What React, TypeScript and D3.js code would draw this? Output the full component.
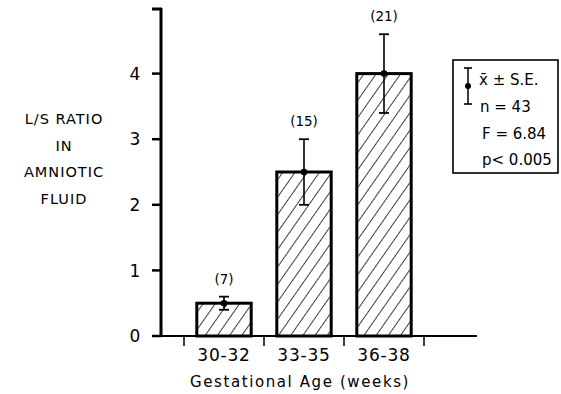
import React from 'react';
import * as d3 from 'd3';

// gestational age groups and the L/S ratio values
const groups = ['30-32', '33-35', '36-38'];
const means = [0.5, 2.5, 4.0];
const errors = [0.1, 0.5, 0.6];
const counts = ['(7)', '(15)', '(21)'];
const yTicks = [0, 1, 2, 3, 4];
const yLabelLines = ['L/S RATIO', 'IN', 'AMNIOTIC', 'FLUID'];
const legendLines = ['n = 43', 'F = 6.84', 'p< 0.005'];

const font = '"DejaVu Sans", sans-serif';

const App = () => {
  const width = 561;
  const height = 394;

  const y = d3.scaleLinear().domain([0, 5]).range([336, 8]);
  const x = d3.scaleBand().domain(groups).range([184, 424]).paddingInner(0.32).paddingOuter(0.16);
  const axisX = 161;

  return (
    <svg width={width} height={height} style={{ position: 'absolute', left: 0, top: 0, background: '#fff' }}>
      <defs>
        <pattern id="hatch" patternUnits="userSpaceOnUse" width="10" height="10" patternTransform="rotate(35)">
          <line x1="0" y1="0" x2="0" y2="10" stroke="#000" strokeWidth="1.5" />
        </pattern>
      </defs>

      {/* y axis */}
      <line x1={axisX} x2={axisX} y1={y(5)} y2={y(0)} stroke="#000" strokeWidth="3" />
      <line x1={axisX - 9} x2={axisX + 1} y1={y(5) + 1} y2={y(5) + 1} stroke="#000" strokeWidth="3" />
      {yTicks.map(t => (
        <g key={t}>
          <line x1={axisX - 9} x2={axisX} y1={y(t)} y2={y(t)} stroke="#000" strokeWidth="2.5" />
          <text x={axisX - 26} y={y(t)} dy="0.36em" textAnchor="middle" fontFamily={font} fontSize="17">{t}</text>
        </g>
      ))}

      {/* y label */}
      {yLabelLines.map((s, i) => (
        <text key={s} x={64} y={119 + i * 26.5} dy="0.36em" textAnchor="middle" fontFamily={font} fontSize="14.5" letterSpacing="1">{s}</text>
      ))}

      {/* x axis */}
      <line x1={axisX} x2={477} y1={y(0)} y2={y(0)} stroke="#000" strokeWidth="1.8" />
      {[0, 1, 2, 3].map(i => {
        const bx = 184 + i * x.step();
        return <line key={i} x1={bx} x2={bx} y1={y(0)} y2={y(0) + 10} stroke="#000" strokeWidth="1.5" />;
      })}

      {/* bars */}
      {groups.map((g, i) => {
        const bx = x(g) as number;
        const cx = bx + x.bandwidth() / 2;
        return (
          <g key={g}>
            <rect x={bx} y={y(means[i])} width={x.bandwidth()} height={y(0) - y(means[i])}
              fill="url(#hatch)" stroke="#000" strokeWidth="3" />
            <line x1={cx} x2={cx} y1={y(means[i] + errors[i])} y2={y(means[i] - errors[i])} stroke="#000" strokeWidth="1.6" />
            <line x1={cx - 5} x2={cx + 5} y1={y(means[i] + errors[i])} y2={y(means[i] + errors[i])} stroke="#000" strokeWidth="1.8" />
            <line x1={cx - 5} x2={cx + 5} y1={y(means[i] - errors[i])} y2={y(means[i] - errors[i])} stroke="#000" strokeWidth="1.8" />
            <circle cx={cx} cy={y(means[i])} r="3.3" fill="#000" />
            <text x={cx} y={y(means[i] + errors[i]) - 18} dy="0.36em" textAnchor="middle" fontFamily={font} fontSize="13.5">{counts[i]}</text>
            <text x={cx} y={355} dy="0.36em" textAnchor="middle" fontFamily={font} fontSize="17" letterSpacing="0.8">{g}</text>
          </g>
        );
      })}

      <text x={300} y={382} dy="0.36em" textAnchor="middle" fontFamily={font} fontSize="15" letterSpacing="1.6">Gestational Age (weeks)</text>

      {/* legend */}
      <rect x={453} y={60} width={105} height={113} fill="none" stroke="#000" strokeWidth="1.6" />
      <line x1={468} x2={468} y1={68} y2={104} stroke="#000" strokeWidth="1.5" />
      <line x1={464} x2={472} y1={68} y2={68} stroke="#000" strokeWidth="1.6" />
      <line x1={464} x2={472} y1={104} y2={104} stroke="#000" strokeWidth="1.6" />
      <circle cx={468} cy={86} r="3" fill="#000" />
      <text x={479} y={80} dy="0.36em" fontFamily={font} fontSize="15">{'x\u0304 \u00b1 S.E.'}</text>
      {legendLines.map((s, i) => (
        <text key={s} x={i === 0 ? 480 : 482} y={107 + i * 26.5} dy="0.36em" fontFamily={font} fontSize="15">{s}</text>
      ))}
    </svg>
  );
};

export default App;
